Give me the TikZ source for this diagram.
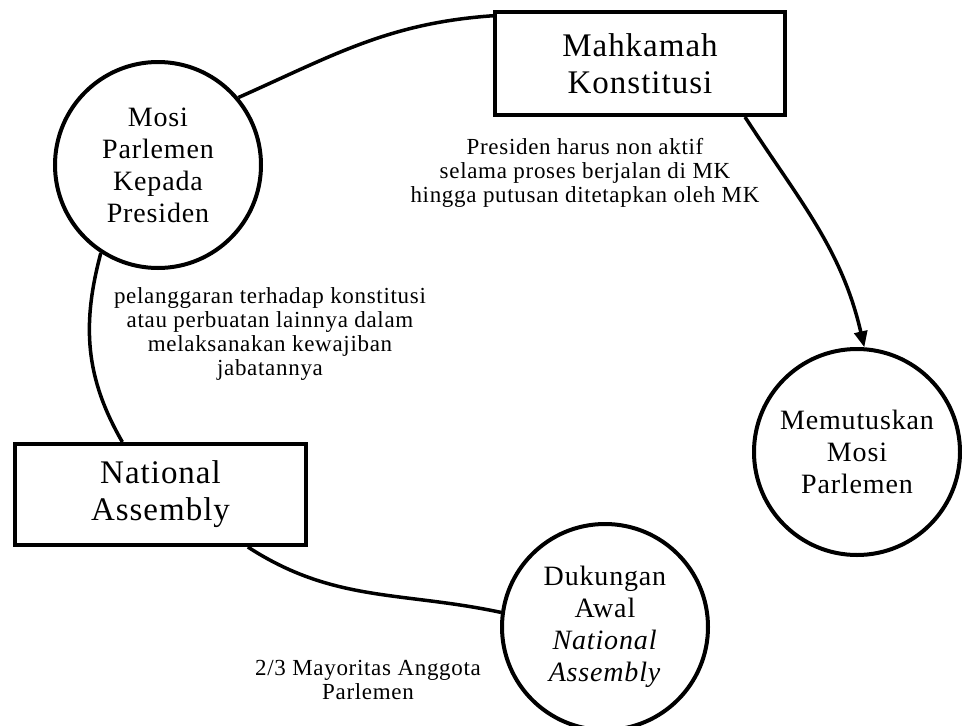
\documentclass[tikz,border=0pt]{standalone}
\usepackage{fontspec}
\setmainfont{Liberation Serif}[LetterSpace=3]
\usetikzlibrary{arrows.meta,calc}

\newcommand\procfont{\fontsize{28}{32}\selectfont}
\newcommand\entfont{\fontsize{33}{37}\selectfont}
\newcommand\flowfont{\fontsize{23}{24}\selectfont}

\tikzset{
  proc/.style={circle, draw, line width=4pt, minimum size=206pt, inner sep=0pt,
               align=center, font=\procfont},
  ent/.style={rectangle, draw, line width=4pt, inner sep=0pt,
              align=center, font=\entfont},
  flowlabel/.style={align=center, font=\flowfont, inner sep=0pt},
  flow/.style={line width=3.5pt},
}

\begin{document}
\begin{tikzpicture}[x=1pt,y=1pt]
  \useasboundingbox (0,0) rectangle (962,-726);

  % processes
  \node[proc] (mosi) at (158,-165) {Mosi\\Parlemen\\Kepada\\Presiden};
  \node[proc] (putus) at (857,-452) {Memutuskan\\Mosi\\Parlemen};
  \node[proc] (dukung) at (605,-627) {Dukungan\\Awal\\\textit{National}\\\textit{Assembly}};

  % external entities
  \node[ent, minimum width=290pt, minimum height=103pt] (mk) at (640,-63.5) {Mahkamah\\Konstitusi};
  \node[ent, minimum width=291pt, minimum height=101pt] (na) at (160.5,-494.5) {National\\Assembly};

  % flows
  \draw[flow] (mosi.40) to[out=24,in=184] (mk.162);
  \draw[flow, -{Triangle[length=16pt,width=13pt]}] (mk.-27) to[out=-57,in=103] (putus.86);
  \draw[flow] (mosi.-123) to[out=-105,in=120] (na.126);
  \draw[flow] (na.-31) to[out=-33,in=168] (dukung.172);

  % flow labels
  \node[flowlabel] (l1) at (585,-173) {Presiden harus non aktif\\selama proses berjalan di MK\\hingga putusan ditetapkan oleh MK};
  \node[flowlabel] (l2) at (270,-334) {pelanggaran terhadap konstitusi\\atau perbuatan lainnya dalam\\melaksanakan kewajiban\\jabatannya};
  \node[flowlabel] (l3) at (368,-680) {2/3 Mayoritas Anggota\\Parlemen};
\end{tikzpicture}
\end{document}
